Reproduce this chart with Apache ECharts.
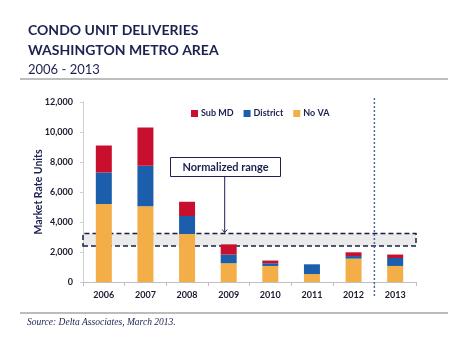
<!DOCTYPE html>
<html>
<head>
<meta charset="utf-8">
<script src="https://cdn.jsdelivr.net/npm/echarts@6/dist/echarts.min.js"></script>
<style>
  html, body { margin: 0; padding: 0; background: #fff; }
  #chart { width: 475px; height: 348px; }
</style>
</head>
<body>
<div id="chart"></div>
<script>
// Condo unit deliveries by sub-market, Washington metro area
const years = ['2006', '2007', '2008', '2009', '2010', '2011', '2012', '2013'];
const noVA = [5200, 5050, 3200, 1250, 1070, 530, 1560, 1070];
const district = [2100, 2700, 1200, 580, 180, 650, 170, 530];
const subMD = [1800, 2550, 950, 680, 180, 0, 250, 230];
const yTicks = { min: 0, max: 12000, interval: 2000 };
// "Normalized range" band, in units
const normalizedRange = [2400, 3230];

const navy = '#1c2150';
const chart = echarts.init(document.getElementById('chart'), null, { renderer: 'canvas' });

const tickFont = { fontFamily: 'Lato', fontWeight: 'bold', fontSize: 9, color: '#1a1a2e' };

chart.setOption({
  animation: false,
  backgroundColor: '#ffffff',
  title: {
    text: 'CONDO UNIT DELIVERIES\nWASHINGTON METRO AREA',
    subtext: '2006 - 2013',
    left: 23,
    top: 15,
    itemGap: 3,
    textStyle: { fontFamily: 'Lato', fontWeight: 'bold', fontSize: 14, lineHeight: 20, color: navy },
    subtextStyle: { fontFamily: 'Lato', fontWeight: 'normal', fontSize: 13, color: navy }
  },
  legend: {
    data: ['Sub MD', 'District', 'No VA'],
    left: 186,
    top: 104,
    icon: 'rect',
    itemWidth: 7,
    itemHeight: 7,
    itemGap: 10,
    textStyle: { fontFamily: 'Lato', fontWeight: 'bold', fontSize: 9, color: navy, padding: [0, 0, 0, -2] }
  },
  grid: { left: 83, right: 59, top: 102, bottom: 66 },
  xAxis: {
    type: 'category',
    data: years,
    axisLine: { lineStyle: { color: '#bfbfbf' } },
    axisTick: { show: true, length: 4, lineStyle: { color: '#bfbfbf' } },
    axisLabel: Object.assign({ margin: 9 }, tickFont)
  },
  yAxis: {
    type: 'value',
    min: yTicks.min,
    max: yTicks.max,
    interval: yTicks.interval,
    name: 'Market Rate Units',
    nameLocation: 'middle',
    nameGap: 39,
    nameMoveOverlap: false,
    nameTextStyle: { fontFamily: 'Lato', fontWeight: 'bold', fontSize: 10.5, color: navy },
    axisLine: { show: true, lineStyle: { color: '#d0d0d0' } },
    axisTick: { show: true, length: 3, lineStyle: { color: '#d0d0d0' } },
    splitLine: { show: false },
    axisLabel: Object.assign({ margin: 10, formatter: v => v.toLocaleString('en-US') }, tickFont)
  },
  series: [
    {
      name: 'No VA', type: 'bar', stack: 'units', data: noVA, barWidth: 16,
      itemStyle: { color: '#f4ae47' }
    },
    {
      name: 'District', type: 'bar', stack: 'units', data: district, barWidth: 16,
      itemStyle: { color: '#1b5eab' }
    },
    {
      name: 'Sub MD', type: 'bar', stack: 'units', data: subMD, barWidth: 16,
      itemStyle: { color: '#c8102e' }
    },
    {
      // carrier for the normalized-range band, drawn above the bars
      name: 'band', type: 'line', data: [], z: 5, silent: true,
      markArea: {
        silent: true,
        itemStyle: {
          color: 'rgba(205,205,205,0.4)',
          borderColor: '#16204a',
          borderWidth: 1.5,
          borderType: [5, 3]
        },
        data: [[{ yAxis: normalizedRange[0] }, { yAxis: normalizedRange[1] }]]
      }
    }
  ]
});

// Annotations placed from the chart's own coordinate system
const px = (i, v) => chart.convertToPixel({ seriesIndex: 0 }, [i, v]);
const gridTop = px(0, yTicks.max)[1];
const gridBottom = px(0, 0)[1];
const splitX = (px(6, 0)[0] + px(7, 0)[0]) / 2;
const bandTop = px(0, normalizedRange[1])[1];
const arrowX = px(3, 0)[0] - 4;
const boxTop = px(0, 8300)[1];

chart.setOption({
  graphic: [
    // rule under the heading
    { type: 'line', shape: { x1: 20, y1: 79, x2: 448, y2: 79 }, style: { stroke: '#bdbdbd', lineWidth: 2 }, silent: true },
    // rule above the source note
    { type: 'line', shape: { x1: 20, y1: 313, x2: 448, y2: 313 }, style: { stroke: '#a6a6a6', lineWidth: 1.5 }, silent: true },
    {
      type: 'text', left: 27, top: 317,
      style: { text: 'Source: Delta Associates, March 2013.', font: 'italic 9.5px "Liberation Serif", serif', fill: navy }
    },
    // dotted divider between actual and forecast year
    {
      type: 'line', z: 10,
      shape: { x1: splitX, y1: gridTop - 4, x2: splitX, y2: gridBottom + 16 },
      style: { stroke: '#4a6fa5', lineWidth: 1.5, lineDash: [2, 2] }, silent: true
    },
    // callout box
    {
      type: 'rect', z: 10,
      shape: { x: 170.5, y: boxTop, width: 110, height: 19 },
      style: { fill: '#ffffff', stroke: navy, lineWidth: 1 }
    },
    {
      type: 'text', z: 11,
      x: 225.5, y: boxTop + 9.5,
      style: { text: 'Normalized range', font: 'bold 11px Lato', fill: navy, align: 'center', verticalAlign: 'middle' }
    },
    // arrow down to the band
    {
      type: 'line', z: 10,
      shape: { x1: arrowX, y1: boxTop + 19, x2: arrowX, y2: bandTop - 1 },
      style: { stroke: navy, lineWidth: 1 }
    },
    {
      type: 'polyline', z: 10,
      shape: { points: [[arrowX - 2.5, bandTop - 4], [arrowX, bandTop - 1], [arrowX + 2.5, bandTop - 4]] },
      style: { stroke: navy, lineWidth: 1, fill: 'none' }
    }
  ]
});
</script>
</body>
</html>
